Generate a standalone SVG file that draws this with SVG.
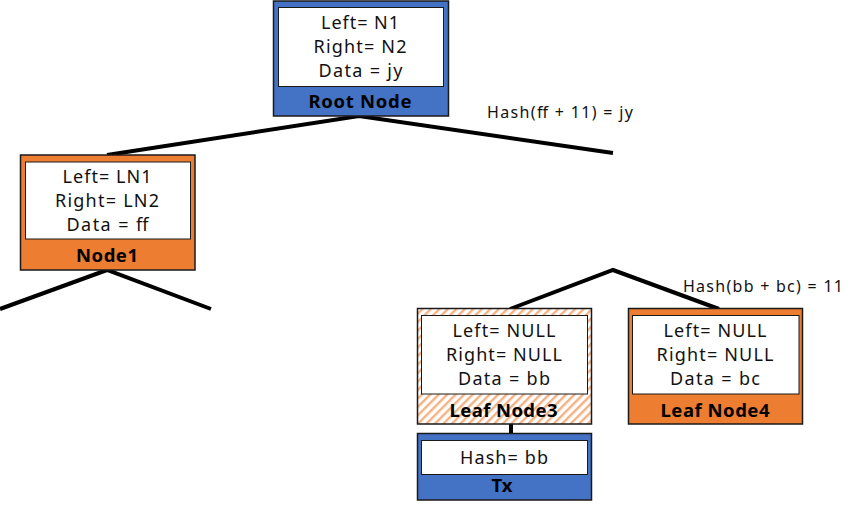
<svg xmlns="http://www.w3.org/2000/svg" width="856" height="509" viewBox="0 0 856 509">
<defs>
<pattern id="hatch" patternUnits="userSpaceOnUse" width="6" height="6" patternTransform="rotate(45)">
<rect width="6" height="6" fill="#ffffff"/>
<rect x="0" y="0" width="2.4" height="6" fill="#F4B183"/>
</pattern>
<style>
.blue{fill:#4472C4;stroke:#1a1a1a;stroke-width:1.5}
.orange{fill:#ED7D31;stroke:#1a1a1a;stroke-width:1.5}
.hatched{fill:url(#hatch);stroke:#1a1a1a;stroke-width:1.5}
.inner{fill:#ffffff;stroke:#1a1a1a;stroke-width:1}
.t{font-family:"Noto Sans","Open Sans","Liberation Sans",sans-serif;font-size:18px;fill:#111;text-anchor:middle}
.b{font-family:"Noto Sans","Open Sans","Liberation Sans",sans-serif;font-size:18.5px;font-weight:bold;fill:#000;text-anchor:middle}
.h{font-family:"Noto Sans","Open Sans","Liberation Sans",sans-serif;font-size:16px;fill:#111}
.edge{fill:none;stroke:#000;stroke-width:4}
</style>
</defs>
<rect width="856" height="509" fill="#ffffff"/>
<g id="connectors">
<polyline class="edge" points="107,155 359,116 613,153"/>
<polyline class="edge" points="0,309 107,270 211,309"/>
<polyline class="edge" points="510,309 613,270 719,309"/>
<line class="edge" x1="511" y1="424" x2="511" y2="433"/>
</g>
<g id="root">
<rect class="blue" x="273.5" y="1" width="175" height="115"/>
<rect class="inner" x="278.5" y="7.5" width="165" height="79"/>
<text class="t" x="360" y="29" textLength="78" lengthAdjust="spacing">Left= N1</text>
<text class="t" x="360" y="53" textLength="93" lengthAdjust="spacing">Right= N2</text>
<text class="t" x="360.5" y="77" textLength="84" lengthAdjust="spacing">Data = jy</text>
<text class="b" x="360" y="108" textLength="103" lengthAdjust="spacing">Root Node</text>
</g>
<text class="h" x="487" y="118" textLength="146" lengthAdjust="spacing">Hash(ff + 11) = jy</text>
<g id="node1">
<rect class="orange" x="20.5" y="155" width="174.5" height="115"/>
<rect class="inner" x="25.5" y="162" width="165" height="77"/>
<text class="t" x="107" y="183" textLength="89" lengthAdjust="spacing">Left= LN1</text>
<text class="t" x="107" y="207" textLength="104" lengthAdjust="spacing">Right= LN2</text>
<text class="t" x="107.5" y="231" textLength="82" lengthAdjust="spacing">Data = ff</text>
<text class="b" x="107" y="262" textLength="62" lengthAdjust="spacing">Node1</text>
</g>
<g id="leaf3">
<rect class="hatched" x="417.5" y="308.5" width="174" height="115.5"/>
<rect class="inner" x="421.5" y="315.5" width="166" height="78.5"/>
<text class="t" x="504" y="337" textLength="103" lengthAdjust="spacing">Left= NULL</text>
<text class="t" x="504" y="361" textLength="116" lengthAdjust="spacing">Right= NULL</text>
<text class="t" x="504" y="385" textLength="92" lengthAdjust="spacing">Data = bb</text>
<text class="b" x="503.5" y="417" textLength="108" lengthAdjust="spacing">Leaf Node3</text>
</g>
<g id="tx">
<rect class="blue" x="417.5" y="433.5" width="174" height="66.5"/>
<rect class="inner" x="421.5" y="440.5" width="166" height="34"/>
<text class="t" x="504" y="464" textLength="88" lengthAdjust="spacing">Hash= bb</text>
<text class="b" x="502" y="492">Tx</text>
</g>
<g id="leaf4">
<rect class="orange" x="628.5" y="308.5" width="174" height="115.5"/>
<rect class="inner" x="632.5" y="315.5" width="166.5" height="78.5"/>
<text class="t" x="715" y="337" textLength="103" lengthAdjust="spacing">Left= NULL</text>
<text class="t" x="715" y="361" textLength="117" lengthAdjust="spacing">Right= NULL</text>
<text class="t" x="715" y="385" textLength="90" lengthAdjust="spacing">Data = bc</text>
<text class="b" x="715" y="417" textLength="109" lengthAdjust="spacing">Leaf Node4</text>
</g>
<text class="h" x="683" y="292" textLength="160" lengthAdjust="spacing">Hash(bb + bc) = 11</text>
</svg>
